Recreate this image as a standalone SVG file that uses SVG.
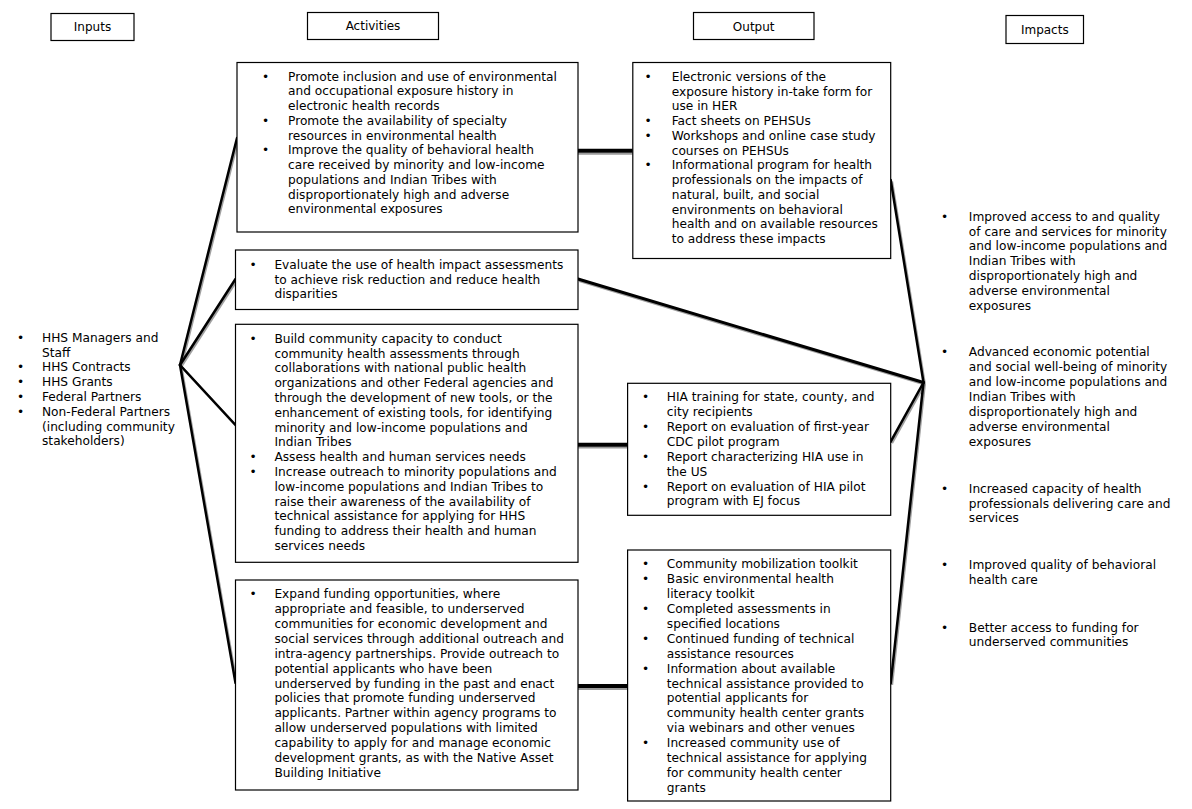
<svg xmlns="http://www.w3.org/2000/svg" width="1192" height="809" viewBox="0 0 1192 809">
<style>
  text { font-family: "DejaVu Sans", Verdana, sans-serif; font-size: 12.2px; fill: #000; }
  .hdr { text-anchor: middle; font-size: 12px; }
  .box { fill: #fff; stroke: #000; stroke-width: 1.2; }
  .ln { stroke: #000; stroke-width: 2.5; fill: none; stroke-linecap: round; }
  .sh { stroke: #a0a0a0; stroke-width: 2.5; fill: none; }
  .thk { stroke: #000; stroke-width: 4; }
  .thksh { stroke: #9a9a9a; stroke-width: 2; }
</style>
<rect width="1192" height="809" fill="#fff"/>

<g id="connectors">
  <g transform="translate(1.2,1.5)">
    <line class="sh" x1="180" y1="365" x2="237" y2="138"/>
    <line class="sh" x1="180" y1="365" x2="235.5" y2="279"/>
    <line class="sh" x1="180" y1="365" x2="235.5" y2="425"/>
    <line class="sh" x1="180" y1="365" x2="235.5" y2="683"/>
    <line class="sh" x1="923.5" y1="382.5" x2="890.7" y2="180"/>
    <line class="sh" x1="923.5" y1="382.5" x2="578" y2="279" style="stroke-width:3"/>
    <line class="sh" x1="923.5" y1="382.5" x2="890.7" y2="441.7"/>
    <line class="sh" x1="923.5" y1="382.5" x2="890.7" y2="683.3"/>
  </g>
  <line class="ln" x1="180" y1="365" x2="237" y2="138"/>
  <line class="ln" x1="180" y1="365" x2="235.5" y2="279"/>
  <line class="ln" x1="180" y1="365" x2="235.5" y2="425"/>
  <line class="ln" x1="180" y1="365" x2="235.5" y2="683"/>
  <line class="ln" x1="923.5" y1="382.5" x2="890.7" y2="180"/>
  <line class="ln" x1="923.5" y1="382.5" x2="578" y2="279" style="stroke-width:3"/>
  <line class="ln" x1="923.5" y1="382.5" x2="890.7" y2="441.7"/>
  <line class="ln" x1="923.5" y1="382.5" x2="890.7" y2="683.3"/>
  <line class="thksh" x1="578" y1="153.7" x2="632.8" y2="153.7"/>
  <line class="thk" x1="578" y1="150.7" x2="632.8" y2="150.7"/>
  <line class="thksh" x1="578" y1="447.5" x2="627.6" y2="447.5"/>
  <line class="thk" x1="578" y1="444.7" x2="627.6" y2="444.7"/>
  <line class="thksh" x1="578" y1="689" x2="627.6" y2="689"/>
  <line class="thk" x1="578" y1="686" x2="627.6" y2="686"/>
</g>

<g id="hdr-inputs">
  <rect class="box" x="51" y="13.5" width="83" height="27"/>
  <text class="hdr" x="92.5" y="31">Inputs</text>
</g>
<g id="hdr-activities">
  <rect class="box" x="307.5" y="12.5" width="131" height="27"/>
  <text class="hdr" x="373" y="30.3">Activities</text>
</g>
<g id="hdr-output">
  <rect class="box" x="693.5" y="12.5" width="120.5" height="27"/>
  <text class="hdr" x="753.7" y="30.5">Output</text>
</g>
<g id="hdr-impacts">
  <rect class="box" x="1006" y="15.5" width="77.5" height="28"/>
  <text class="hdr" x="1044.8" y="33.5">Impacts</text>
</g>

<g id="inputs">
  <text x="17" y="341.7">•</text>
  <text x="42" y="341.7">HHS Managers and</text>
  <text x="42" y="356.5">Staff</text>
  <text x="17" y="371.3">•</text>
  <text x="42" y="371.3">HHS Contracts</text>
  <text x="17" y="386.1">•</text>
  <text x="42" y="386.1">HHS Grants</text>
  <text x="17" y="400.9">•</text>
  <text x="42" y="400.9">Federal Partners</text>
  <text x="17" y="415.7">•</text>
  <text x="42" y="415.7">Non-Federal Partners</text>
  <text x="42" y="430.5">(including community</text>
  <text x="42" y="445.3">stakeholders)</text>
</g>

<g id="activity-1">
  <rect class="box" x="237" y="62.5" width="341" height="169.5"/>
  <text x="262" y="80.7">•</text>
  <text x="288" y="80.7">Promote inclusion and use of environmental</text>
  <text x="288" y="95.4">and occupational exposure history in</text>
  <text x="288" y="110.2">electronic health records</text>
  <text x="262" y="124.9">•</text>
  <text x="288" y="124.9">Promote the availability of specialty</text>
  <text x="288" y="139.6">resources in environmental health</text>
  <text x="262" y="154.4">•</text>
  <text x="288" y="154.4">Improve the quality of behavioral health</text>
  <text x="288" y="169.1">care received by minority and low-income</text>
  <text x="288" y="183.8">populations and Indian Tribes with</text>
  <text x="288" y="198.6">disproportionately high and adverse</text>
  <text x="288" y="213.3">environmental exposures</text>
</g>

<g id="activity-2">
  <rect class="box" x="235.5" y="250" width="342.5" height="59.5"/>
  <text x="249.5" y="269">•</text>
  <text x="274.4" y="269">Evaluate the use of health impact assessments</text>
  <text x="274.4" y="283.5">to achieve risk reduction and reduce health</text>
  <text x="274.4" y="298">disparities</text>
</g>

<g id="activity-3">
  <rect class="box" x="235.5" y="324.3" width="342.5" height="238"/>
  <text x="249.5" y="342.7">•</text>
  <text x="274.4" y="342.7">Build community capacity to conduct</text>
  <text x="274.4" y="357.5">community health assessments through</text>
  <text x="274.4" y="372.3">collaborations with national public health</text>
  <text x="274.4" y="387.1">organizations and other Federal agencies and</text>
  <text x="274.4" y="401.9">through the development of new tools, or the</text>
  <text x="274.4" y="416.7">enhancement of existing tools, for identifying</text>
  <text x="274.4" y="431.5">minority and low-income populations and</text>
  <text x="274.4" y="446.3">Indian Tribes</text>
  <text x="249.5" y="461.1">•</text>
  <text x="274.4" y="461.1">Assess health and human services needs</text>
  <text x="249.5" y="475.9">•</text>
  <text x="274.4" y="475.9">Increase outreach to minority populations and</text>
  <text x="274.4" y="490.7">low-income populations and Indian Tribes to</text>
  <text x="274.4" y="505.5">raise their awareness of the availability of</text>
  <text x="274.4" y="520.3">technical assistance for applying for HHS</text>
  <text x="274.4" y="535.1">funding to address their health and human</text>
  <text x="274.4" y="549.9">services needs</text>
</g>

<g id="activity-4">
  <rect class="box" x="235.5" y="580" width="342.5" height="210"/>
  <text x="249.5" y="598.3">•</text>
  <text x="274.4" y="598.3">Expand funding opportunities, where</text>
  <text x="274.4" y="613.2">appropriate and feasible, to underserved</text>
  <text x="274.4" y="628">communities for economic development and</text>
  <text x="274.4" y="642.9">social services through additional outreach and</text>
  <text x="274.4" y="657.8">intra-agency partnerships. Provide outreach to</text>
  <text x="274.4" y="672.7">potential applicants who have been</text>
  <text x="274.4" y="687.5">underserved by funding in the past and enact</text>
  <text x="274.4" y="702.4">policies that promote funding underserved</text>
  <text x="274.4" y="717.3">applicants. Partner within agency programs to</text>
  <text x="274.4" y="732.1">allow underserved populations with limited</text>
  <text x="274.4" y="747">capability to apply for and manage economic</text>
  <text x="274.4" y="761.9">development grants, as with the Native Asset</text>
  <text x="274.4" y="776.7">Building Initiative</text>
</g>

<g id="output-1">
  <rect class="box" x="632.8" y="62.5" width="257.9" height="196"/>
  <text x="644.5" y="80.7">•</text>
  <text x="671.7" y="80.7">Electronic versions of the</text>
  <text x="671.7" y="95.5">exposure history in-take form for</text>
  <text x="671.7" y="110.2">use in HER</text>
  <text x="644.5" y="125">•</text>
  <text x="671.7" y="125">Fact sheets on PEHSUs</text>
  <text x="644.5" y="139.7">•</text>
  <text x="671.7" y="139.7">Workshops and online case study</text>
  <text x="671.7" y="154.5">courses on PEHSUs</text>
  <text x="644.5" y="169.2">•</text>
  <text x="671.7" y="169.2">Informational program for health</text>
  <text x="671.7" y="184">professionals on the impacts of</text>
  <text x="671.7" y="198.7">natural, built, and social</text>
  <text x="671.7" y="213.5">environments on behavioral</text>
  <text x="671.7" y="228.2">health and on available resources</text>
  <text x="671.7" y="243">to address these impacts</text>
</g>

<g id="output-2">
  <rect class="box" x="627.6" y="383.3" width="263.1" height="132"/>
  <text x="641.9" y="401.3">•</text>
  <text x="666.8" y="401.3">HIA training for state, county, and</text>
  <text x="666.8" y="416.2">city recipients</text>
  <text x="641.9" y="431">•</text>
  <text x="666.8" y="431">Report on evaluation of first-year</text>
  <text x="666.8" y="445.9">CDC pilot program</text>
  <text x="641.9" y="460.8">•</text>
  <text x="666.8" y="460.8">Report characterizing HIA use in</text>
  <text x="666.8" y="475.6">the US</text>
  <text x="641.9" y="490.5">•</text>
  <text x="666.8" y="490.5">Report on evaluation of HIA pilot</text>
  <text x="666.8" y="505.3">program with EJ focus</text>
</g>

<g id="output-3">
  <rect class="box" x="627.6" y="550" width="263.1" height="251"/>
  <text x="641.9" y="568.3">•</text>
  <text x="666.8" y="568.3">Community mobilization toolkit</text>
  <text x="641.9" y="583.2">•</text>
  <text x="666.8" y="583.2">Basic environmental health</text>
  <text x="666.8" y="598.1">literacy toolkit</text>
  <text x="641.9" y="613">•</text>
  <text x="666.8" y="613">Completed assessments in</text>
  <text x="666.8" y="627.9">specified locations</text>
  <text x="641.9" y="642.8">•</text>
  <text x="666.8" y="642.8">Continued funding of technical</text>
  <text x="666.8" y="657.7">assistance resources</text>
  <text x="641.9" y="672.6">•</text>
  <text x="666.8" y="672.6">Information about available</text>
  <text x="666.8" y="687.5">technical assistance provided to</text>
  <text x="666.8" y="702.4">potential applicants for</text>
  <text x="666.8" y="717.3">community health center grants</text>
  <text x="666.8" y="732.2">via webinars and other venues</text>
  <text x="641.9" y="747.1">•</text>
  <text x="666.8" y="747.1">Increased community use of</text>
  <text x="666.8" y="762">technical assistance for applying</text>
  <text x="666.8" y="776.9">for community health center</text>
  <text x="666.8" y="791.8">grants</text>
</g>

<g id="impact-1">
  <text x="940.9" y="220.7">•</text>
  <text x="968.8" y="220.7">Improved access to and quality</text>
  <text x="968.8" y="235.5">of care and services for minority</text>
  <text x="968.8" y="250.4">and low-income populations and</text>
  <text x="968.8" y="265.2">Indian Tribes with</text>
  <text x="968.8" y="280">disproportionately high and</text>
  <text x="968.8" y="294.9">adverse environmental</text>
  <text x="968.8" y="309.7">exposures</text>
</g>
<g id="impact-2">
  <text x="940.9" y="356.3">•</text>
  <text x="968.8" y="356.3">Advanced economic potential</text>
  <text x="968.8" y="371.2">and social well-being of minority</text>
  <text x="968.8" y="386.1">and low-income populations and</text>
  <text x="968.8" y="401">Indian Tribes with</text>
  <text x="968.8" y="415.9">disproportionately high and</text>
  <text x="968.8" y="430.8">adverse environmental</text>
  <text x="968.8" y="445.7">exposures</text>
</g>
<g id="impact-3">
  <text x="940.9" y="493.3">•</text>
  <text x="968.8" y="493.3">Increased capacity of health</text>
  <text x="968.8" y="507.8">professionals delivering care and</text>
  <text x="968.8" y="522.3">services</text>
</g>
<g id="impact-4">
  <text x="940.9" y="569">•</text>
  <text x="968.8" y="569">Improved quality of behavioral</text>
  <text x="968.8" y="584">health care</text>
</g>
<g id="impact-5">
  <text x="940.9" y="632.3">•</text>
  <text x="968.8" y="632.3">Better access to funding for</text>
  <text x="968.8" y="646">underserved communities</text>
</g>
</svg>
